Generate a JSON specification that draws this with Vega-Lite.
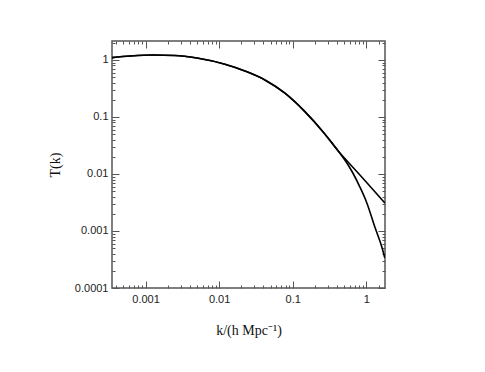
{
  "$schema": "https://vega.github.io/schema/vega-lite/v6.json",
  "width": 273,
  "height": 247,
  "autosize": {"type": "none"},
  "padding": {"left": 112, "top": 41, "right": 100, "bottom": 84},
  "background": "white",
  "config": {
    "view": {"stroke": "#555", "strokeWidth": 1.5},
    "axis": {
      "domain": false,
      "grid": false,
      "tickColor": "#555",
      "tickWidth": 1,
      "labelFont": "Liberation Sans",
      "labelFontSize": 11,
      "labelColor": "#222",
      "titleFont": "Liberation Serif",
      "titleFontSize": 14,
      "titleFontWeight": "normal",
      "titleColor": "#111"
    }
  },
  "data": {
    "values": [
      {"curve": "a", "k": 0.00035, "T": 1.10},
      {"curve": "a", "k": 0.000615, "T": 1.17},
      {"curve": "a", "k": 0.00126, "T": 1.22},
      {"curve": "a", "k": 0.0025, "T": 1.20},
      {"curve": "a", "k": 0.005, "T": 1.08},
      {"curve": "a", "k": 0.012, "T": 0.84},
      {"curve": "a", "k": 0.0224, "T": 0.64},
      {"curve": "a", "k": 0.042, "T": 0.446},
      {"curve": "a", "k": 0.0785, "T": 0.261},
      {"curve": "a", "k": 0.1466, "T": 0.124},
      {"curve": "a", "k": 0.258, "T": 0.0552},
      {"curve": "a", "k": 0.438, "T": 0.0233},
      {"curve": "a", "k": 0.546, "T": 0.0171},
      {"curve": "a", "k": 0.821, "T": 0.0096},
      {"curve": "a", "k": 1.79, "T": 0.0031},
      {"curve": "b", "k": 0.00035, "T": 1.10},
      {"curve": "b", "k": 0.000615, "T": 1.17},
      {"curve": "b", "k": 0.00126, "T": 1.22},
      {"curve": "b", "k": 0.0025, "T": 1.20},
      {"curve": "b", "k": 0.005, "T": 1.08},
      {"curve": "b", "k": 0.012, "T": 0.84},
      {"curve": "b", "k": 0.0224, "T": 0.64},
      {"curve": "b", "k": 0.042, "T": 0.446},
      {"curve": "b", "k": 0.0785, "T": 0.261},
      {"curve": "b", "k": 0.1466, "T": 0.124},
      {"curve": "b", "k": 0.258, "T": 0.0552},
      {"curve": "b", "k": 0.438, "T": 0.0233},
      {"curve": "b", "k": 0.546, "T": 0.0156},
      {"curve": "b", "k": 0.658, "T": 0.0104},
      {"curve": "b", "k": 0.821, "T": 0.0059},
      {"curve": "b", "k": 1.02, "T": 0.0031},
      {"curve": "b", "k": 1.31, "T": 0.00117},
      {"curve": "b", "k": 1.63, "T": 0.000524},
      {"curve": "b", "k": 1.79, "T": 0.000336}
    ]
  },
  "layer": [
    {
      "mark": {"type": "line", "color": "black", "strokeWidth": 1.6, "interpolate": "monotone", "clip": true},
      "encoding": {
        "x": {
          "field": "k", "type": "quantitative",
          "scale": {"type": "log", "domain": [0.00035, 1.8], "nice": false},
          "axis": {
            "orient": "bottom",
            "title": "k/(h Mpc⁻¹)",
            "titlePadding": 15,
            "values": [0.0004,0.0005,0.0006,0.0007,0.0008,0.0009,0.001,0.002,0.003,0.004,0.005,0.006,0.007,0.008,0.009,0.01,0.02,0.03,0.04,0.05,0.06,0.07,0.08,0.09,0.1,0.2,0.3,0.4,0.5,0.6,0.7,0.8,0.9,1,1.5],
            "labelExpr": "abs(log(datum.value)/LN10 - round(log(datum.value)/LN10)) < 0.001 ? format(datum.value, '~g') : ''",
            "tickSize": {"condition": {"test": "abs(log(datum.value)/LN10 - round(log(datum.value)/LN10)) < 0.001", "value": -7}, "value": -3},
            "labelPadding": 12,
            "labelFlush": false,
            "labelOverlap": false
          }
        },
        "y": {
          "field": "T", "type": "quantitative",
          "scale": {"type": "log", "domain": [0.0001, 2.15], "nice": false},
          "axis": {
            "orient": "left",
            "title": "T(k)",
            "titlePadding": 12,
            "values": [0.0001,0.0002,0.0003,0.0004,0.0005,0.0006,0.0007,0.0008,0.0009,0.001,0.002,0.003,0.004,0.005,0.006,0.007,0.008,0.009,0.01,0.02,0.03,0.04,0.05,0.06,0.07,0.08,0.09,0.1,0.2,0.3,0.4,0.5,0.6,0.7,0.8,0.9,1,2],
            "labelExpr": "abs(log(datum.value)/LN10 - round(log(datum.value)/LN10)) < 0.001 ? format(datum.value, '~g') : ''",
            "tickSize": {"condition": {"test": "abs(log(datum.value)/LN10 - round(log(datum.value)/LN10)) < 0.001", "value": -7}, "value": -3},
            "labelPadding": 11,
            "labelFlush": false,
            "labelOverlap": false
          }
        },
        "detail": {"field": "curve"}
      }
    },
    {
      "mark": {"type": "line", "opacity": 0},
      "encoding": {
        "x": {
          "field": "k", "type": "quantitative",
          "scale": {"type": "log", "domain": [0.00035, 1.8], "nice": false},
          "axis": {
            "orient": "top",
            "title": null,
            "labels": false,
            "values": [0.0004,0.0005,0.0006,0.0007,0.0008,0.0009,0.001,0.002,0.003,0.004,0.005,0.006,0.007,0.008,0.009,0.01,0.02,0.03,0.04,0.05,0.06,0.07,0.08,0.09,0.1,0.2,0.3,0.4,0.5,0.6,0.7,0.8,0.9,1,1.5],
            "tickSize": {"condition": {"test": "abs(log(datum.value)/LN10 - round(log(datum.value)/LN10)) < 0.001", "value": -7}, "value": -3}
          }
        },
        "y": {
          "field": "T", "type": "quantitative",
          "scale": {"type": "log", "domain": [0.0001, 2.15], "nice": false},
          "axis": {
            "orient": "right",
            "title": null,
            "labels": false,
            "values": [0.0001,0.0002,0.0003,0.0004,0.0005,0.0006,0.0007,0.0008,0.0009,0.001,0.002,0.003,0.004,0.005,0.006,0.007,0.008,0.009,0.01,0.02,0.03,0.04,0.05,0.06,0.07,0.08,0.09,0.1,0.2,0.3,0.4,0.5,0.6,0.7,0.8,0.9,1,2],
            "tickSize": {"condition": {"test": "abs(log(datum.value)/LN10 - round(log(datum.value)/LN10)) < 0.001", "value": -7}, "value": -3}
          }
        },
        "detail": {"field": "curve"}
      }
    }
  ],
  "resolve": {"axis": {"x": "independent", "y": "independent"}}
}
